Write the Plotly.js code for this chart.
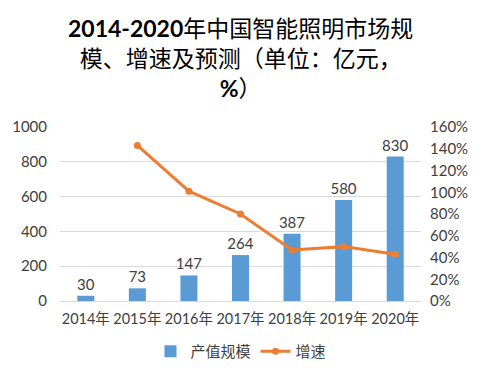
<!DOCTYPE html>
<html><head><meta charset="utf-8">
<script src="https://cdn.plot.ly/plotly-3.0.1.min.js"></script>
<style>html,body{margin:0;padding:0;background:#fff}</style>
</head><body><div id="chart" style="width:482px;height:368px"></div>
<script>
const years = ['2014年','2015年','2016年','2017年','2018年','2019年','2020年'];
const scale = [30, 73, 147, 264, 387, 580, 830];
const growthYears = ['2015年','2016年','2017年','2018年','2019年','2020年'];
const growth = [1.43, 1.01, 0.80, 0.47, 0.50, 0.43];
const leftTicks = [0, 200, 400, 600, 800, 1000];
const rightTicks = [0, 0.2, 0.4, 0.6, 0.8, 1.0, 1.2, 1.4, 1.6];
const titleText = '<b>2014-2020</b>年中国智能照明市场规<br>模、增速及预测（单位：亿元，<br><b>%</b>）';

const font = 'Lato, "Noto Sans CJK SC", sans-serif';
const traces = [
  {type:'bar', x: years, y: scale, name:'产值规模', marker:{color:'#5B9BD5'},
   text: scale.map(String), textposition:'outside', cliponaxis:false, constraintext:'none',
   textfont:{size:15, color:'#404040', family:font}, hoverinfo:'none'},
  {type:'scatter', mode:'lines+markers', x: growthYears, y: growth, name:'增速', yaxis:'y2',
   line:{color:'#ED7D31', width:3}, marker:{color:'#ED7D31', size:7}, hoverinfo:'none'}
];
const layout = {
  width:482, height:368,
  margin:{l:60, r:61, t:127, b:67},
  paper_bgcolor:'#fff', plot_bgcolor:'#fff',
  font:{family:font, color:'#404040', size:14},
  annotations:[{text:titleText, xref:'paper', yref:'paper', x:0.5, xanchor:'center',
    y:(301-12)/174, yanchor:'top', showarrow:false, align:'center',
    font:{size:23, color:'#000', family:font}}],
  bargap:0.67,
  xaxis:{type:'category', categoryarray: years, showgrid:false, showline:true, linecolor:'#d9d9d9',
         ticks:'', tickangle:0, tickfont:{size:14.5, color:'#404040'}, ticklabelstandoff:5},
  yaxis:{range:[0,1000], tickvals:leftTicks, showgrid:true, gridcolor:'#d9d9d9', zeroline:false,
         showline:false, ticks:'', tickfont:{size:15, color:'#404040'}, ticklabelstandoff:12},
  yaxis2:{range:[0,1.6], tickvals:rightTicks, tickformat:'.0%', overlaying:'y', side:'right',
          showgrid:false, zeroline:false, showline:false, ticks:'', tickfont:{size:15, color:'#404040'},
          ticklabelstandoff:8},
  legend:{orientation:'h', x:0.5, xanchor:'center', xref:'container', yref:'container', y:0.045, yanchor:'middle',
          font:{size:15, color:'#404040'}},
  showlegend:true
};
Plotly.newPlot('chart', traces, layout, {displayModeBar:false, staticPlot:true});
</script></body></html>
